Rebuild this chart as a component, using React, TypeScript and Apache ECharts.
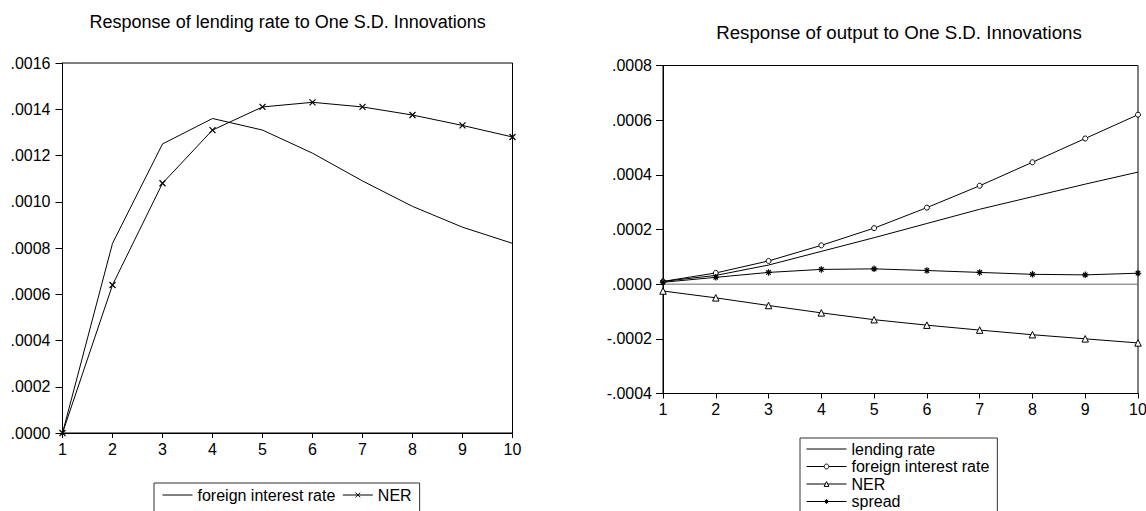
import React, { useEffect, useRef } from "react";
import * as echarts from "echarts";

const periods = [1, 2, 3, 4, 5, 6, 7, 8, 9, 10];

const lendingTitle = "Response of lending rate to One S.D. Innovations";
const lendingNames = ["foreign interest rate", "NER"];
const lendingForeign = [0, 0.00082, 0.00125, 0.00136, 0.00131, 0.00121, 0.00109, 0.00098, 0.00089, 0.00082];
const lendingNER = [0, 0.00064, 0.00108, 0.00131, 0.00141, 0.00143, 0.00141, 0.001375, 0.00133, 0.00128];
const lendingAxis = { min: 0, max: 0.0016, interval: 0.0002 };

const outputTitle = "Response of output to One S.D. Innovations";
const outputNames = ["lending rate", "foreign interest rate", "NER", "spread"];
const outputLending = [0.00001, 0.000032, 0.00007, 0.00012, 0.00017, 0.000222, 0.000274, 0.00032, 0.000366, 0.00041];
const outputForeign = [0.00001, 0.000041, 0.000085, 0.000142, 0.000205, 0.00028, 0.00036, 0.000446, 0.000533, 0.00062];
const outputNER = [-0.000025, -0.00005, -0.000078, -0.000105, -0.00013, -0.00015, -0.000168, -0.000185, -0.0002, -0.000215];
const outputSpread = [0.000007, 0.000025, 0.000043, 0.000054, 0.000056, 0.00005, 0.000043, 0.000036, 0.000034, 0.00004];
const outputZero = [0, 0];
const outputAxis = { min: -0.0004, max: 0.0008, interval: 0.0002 };

const FONT = "'Liberation Sans', Arial, Helvetica, sans-serif";
const crossSymbol = "path://M0,0L10,10M10,0L0,10";
const starSymbol = "path://M5,0L5,10M0,5L10,5M1.6,1.6L8.4,8.4M8.4,1.6L1.6,8.4";

const pairs = (arr: number[]) => periods.map((p, i) => [p, arr[i]]);

const fmtY = (v: number) => {
  const a = Math.abs(v) < 1e-12 ? 0 : v;
  const s = Math.abs(a).toFixed(4).replace(/^0/, "");
  return (a < 0 ? "-" : "") + s;
};

const xAxisCfg = (fs: number) => ({
  type: "value",
  min: 1,
  max: 10,
  interval: 1,
  axisLine: { show: true, onZero: false, lineStyle: { color: "#000", width: 1 } },
  axisTick: { show: true, inside: false, length: 5, lineStyle: { color: "#000", width: 1 } },
  axisLabel: { color: "#000", fontSize: fs, fontFamily: FONT, margin: 8 },
  splitLine: { show: false },
});

const yAxisCfg = (ax: { min: number; max: number; interval: number }, margin: number, fs: number) => ({
  type: "value",
  min: ax.min,
  max: ax.max,
  interval: ax.interval,
  axisLine: { show: true, onZero: false, lineStyle: { color: "#000", width: 1 } },
  axisTick: { show: true, inside: false, length: 7, lineStyle: { color: "#000", width: 1 } },
  axisLabel: { color: "#000", fontSize: fs, fontFamily: FONT, margin, formatter: fmtY },
  splitLine: { show: false },
});

const titleCfg = (text: string, centerX: number, top: number, fs: number) => ({
  text,
  left: centerX,
  top,
  textAlign: "center",
  padding: 0,
  textStyle: { fontSize: fs, fontWeight: "normal", color: "#000", fontFamily: FONT },
});

const legendBase = (fs: number) => ({
  selectedMode: false,
  borderColor: "#333",
  borderWidth: 1,
  itemHeight: 6,
  height: 120,
  textStyle: { fontSize: fs, lineHeight: 16, color: "#000", fontFamily: FONT },
  itemStyle: { borderWidth: 1 },
  lineStyle: { width: 1, color: "#000" },
});

const plainLine = (name: string, data: number[]) => ({
  name,
  type: "line",
  data: pairs(data),
  symbol: "circle",
  symbolSize: 1,
  showSymbol: false,
  lineStyle: { color: "#000", width: 1 },
  itemStyle: { color: "transparent", borderColor: "transparent", borderWidth: 0 },
  silent: true,
  z: 3,
});

const markedLine = (name: string, data: number[], symbol: string, size: number, fill: string, bw: number) => ({
  name,
  type: "line",
  data: pairs(data),
  symbol,
  symbolSize: size,
  showSymbol: true,
  lineStyle: { color: "#000", width: 1 },
  itemStyle: { color: fill, borderColor: "#000", borderWidth: bw },
  silent: true,
  z: 4,
});

function buildLeft(): any {
  return {
    animation: false,
    backgroundColor: "#fff",
    title: titleCfg(lendingTitle, 287.7, 13, 18),
    grid: {
      left: 62.5,
      top: 63,
      width: 450,
      height: 370,
      show: true,
      borderColor: "#000",
      borderWidth: 1,
      containLabel: false,
      outerBoundsMode: "none",
    },
    xAxis: xAxisCfg(16),
    yAxis: yAxisCfg(lendingAxis, 12, 16),
    legend: {
      ...legendBase(16),
      orient: "horizontal",
      left: 154,
      top: 483,
      padding: [4, 8, 14, 8],
      itemWidth: 30,
      itemGap: 7,
      data: lendingNames,
    },
    series: [
      plainLine(lendingNames[0], lendingForeign),
      markedLine(lendingNames[1], lendingNER, crossSymbol, 6, "#000", 1.2),
    ],
  };
}

function buildRight(): any {
  return {
    animation: false,
    backgroundColor: "#fff",
    title: titleCfg(outputTitle, 326, 23, 18.7),
    grid: {
      left: 90,
      top: 65.5,
      width: 475,
      height: 328,
      show: true,
      borderColor: "#000",
      borderWidth: 1,
      containLabel: false,
      outerBoundsMode: "none",
    },
    xAxis: xAxisCfg(16),
    yAxis: yAxisCfg(outputAxis, 11, 16),
    legend: {
      ...legendBase(16),
      orient: "vertical",
      left: 227,
      top: 438,
      padding: [3, 8, 14, 6],
      itemWidth: 40,
      itemGap: 1.5,
      data: outputNames,
    },
    series: [
      {
        name: "zero",
        type: "line",
        data: [
          [periods[0], outputZero[0]],
          [periods[periods.length - 1], outputZero[1]],
        ],
        symbol: "none",
        lineStyle: { color: "#666", width: 1 },
        silent: true,
        z: 2,
      },
      plainLine(outputNames[0], outputLending),
      markedLine(outputNames[1], outputForeign, "circle", 5, "#fff", 1),
      markedLine(outputNames[2], outputNER, "triangle", 6.5, "#fff", 1),
      markedLine(outputNames[3], outputSpread, starSymbol, 6.5, "#000", 1.2),
    ],
  };
}

function Chart({ build, style }: { build: () => any; style: React.CSSProperties }) {
  const ref = useRef<HTMLDivElement | null>(null);
  useEffect(() => {
    if (!ref.current) return;
    const chart = echarts.init(ref.current, null, { renderer: "svg" });
    chart.setOption(build());
    return () => chart.dispose();
  }, [build]);
  return <div ref={ref} style={style} />;
}

export default function App() {
  return (
    <div
      style={{
        position: "fixed",
        left: 0,
        top: 0,
        width: 1146,
        height: 511,
        background: "#fff",
        overflow: "hidden",
      }}
    >
      <Chart build={buildLeft} style={{ position: "absolute", left: 0, top: 0, width: 573, height: 580 }} />
      <Chart build={buildRight} style={{ position: "absolute", left: 573, top: 0, width: 573, height: 580 }} />
    </div>
  );
}
